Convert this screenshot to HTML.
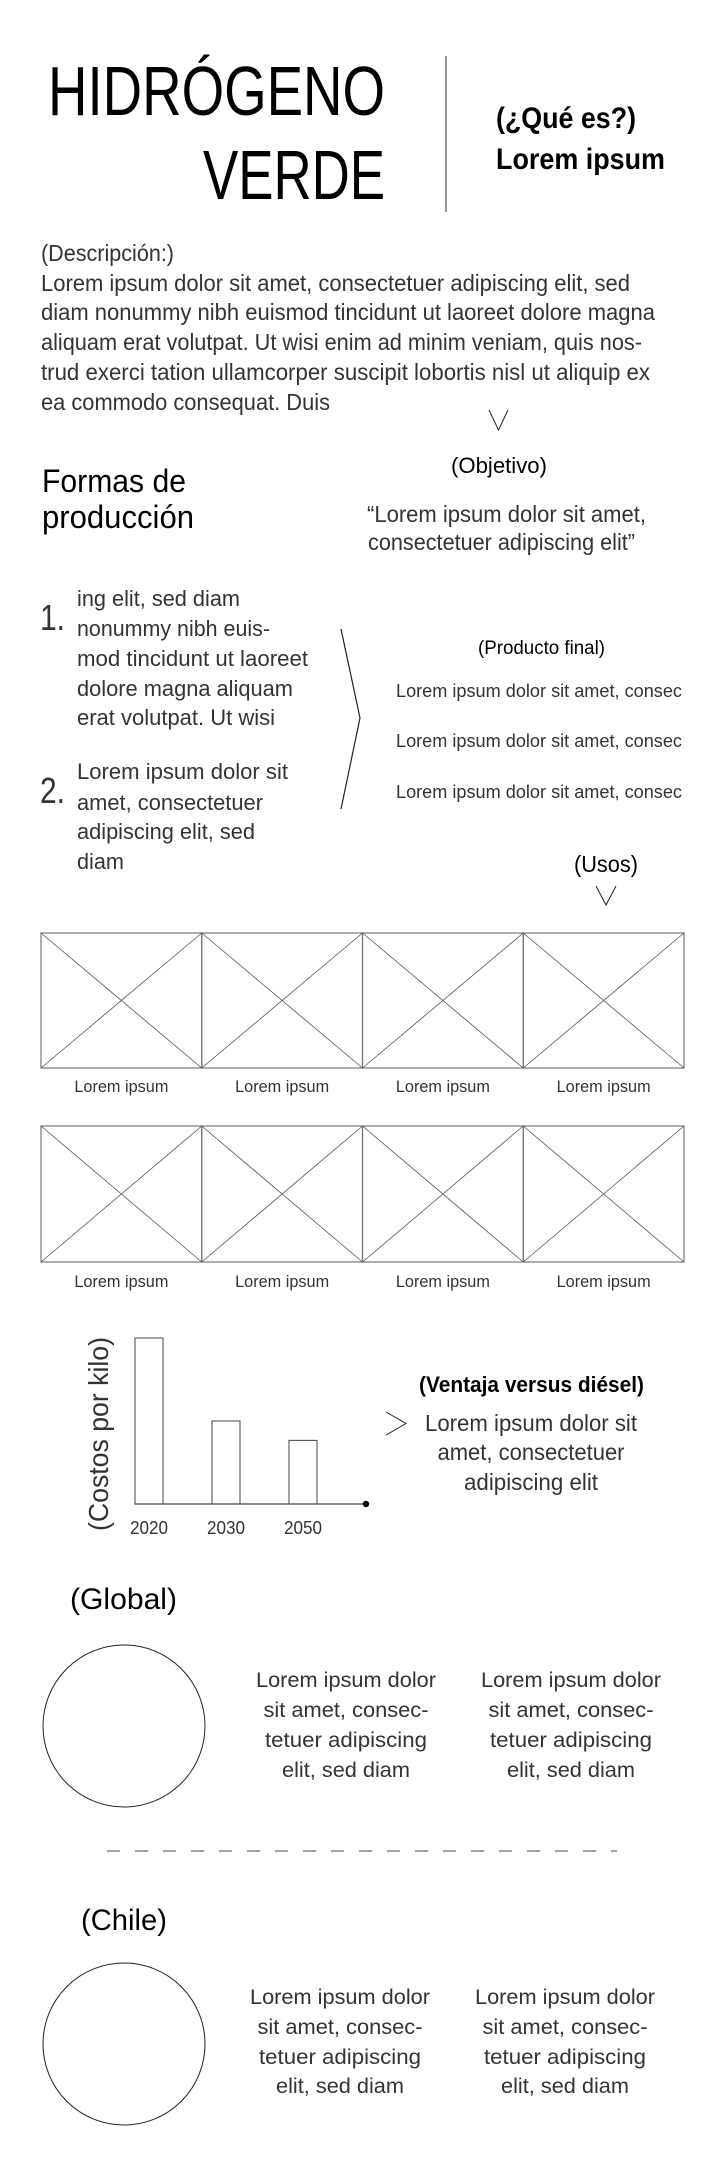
<!DOCTYPE html>
<html lang="es">
<head>
<meta charset="utf-8">
<style>
  html,body{margin:0;padding:0;background:#fff;}
  svg{display:block;}
  text{font-family:"Liberation Sans",sans-serif;fill:#333;}
  .b{font-weight:bold;fill:#000;}
</style>
</head>
<body>
<svg id="page" width="720" height="2160" viewBox="0 0 720 2160" xmlns="http://www.w3.org/2000/svg">
  <rect x="0" y="0" width="720" height="2160" fill="#fff"/>

  <g>
    <text x="48" y="115" font-size="70" textLength="337" lengthAdjust="spacingAndGlyphs" fill="#000" style="fill:#000">HIDRÓGENO</text>
    <text x="203" y="199" font-size="70" textLength="182" lengthAdjust="spacingAndGlyphs" style="fill:#000">VERDE</text>
  </g>
  <line x1="446" y1="56" x2="446" y2="212" stroke="#777" stroke-width="1.5"/>
  <g>
    <text class="b" x="496" y="128" font-size="30" textLength="140" lengthAdjust="spacingAndGlyphs">(¿Qué es?)</text>
    <text class="b" x="496" y="169" font-size="30" textLength="169" lengthAdjust="spacingAndGlyphs">Lorem ipsum</text>
  </g>

  <g font-size="23">
    <text x="41" y="261" textLength="133" lengthAdjust="spacingAndGlyphs">(Descripción:)</text>
    <text x="41" y="291" textLength="589" lengthAdjust="spacingAndGlyphs">Lorem ipsum dolor sit amet, consectetuer adipiscing elit, sed</text>
    <text x="41" y="320" textLength="614" lengthAdjust="spacingAndGlyphs">diam nonummy nibh euismod tincidunt ut laoreet dolore magna</text>
    <text x="41" y="350" textLength="601" lengthAdjust="spacingAndGlyphs">aliquam erat volutpat. Ut wisi enim ad minim veniam, quis nos-</text>
    <text x="41" y="380" textLength="609" lengthAdjust="spacingAndGlyphs">trud exerci tation ullamcorper suscipit lobortis nisl ut aliquip ex</text>
    <text x="41" y="410" textLength="289" lengthAdjust="spacingAndGlyphs">ea commodo consequat. Duis</text>
  </g>
  <polyline points="489,410 498.5,430 508,410" fill="none" stroke="#222" stroke-width="1"/>

  <g>
    <text x="451" y="473" font-size="22" textLength="96" lengthAdjust="spacingAndGlyphs" style="fill:#000">(Objetivo)</text>
    <text x="367" y="522" font-size="23" textLength="279" lengthAdjust="spacingAndGlyphs">“Lorem ipsum dolor sit amet,</text>
    <text x="368" y="550" font-size="23" textLength="267" lengthAdjust="spacingAndGlyphs">consectetuer adipiscing elit”</text>
  </g>

  <g>
    <text x="42" y="492" font-size="32" textLength="144" lengthAdjust="spacingAndGlyphs" style="fill:#000">Formas de</text>
    <text x="42" y="528" font-size="32" textLength="152" lengthAdjust="spacingAndGlyphs" style="fill:#000">producción</text>
  </g>
  <g font-size="22">
    <text x="40" y="630" font-size="36" textLength="25" lengthAdjust="spacingAndGlyphs">1.</text>
    <text x="77" y="606" textLength="163" lengthAdjust="spacingAndGlyphs">ing elit, sed diam</text>
    <text x="77" y="636" textLength="193" lengthAdjust="spacingAndGlyphs">nonummy nibh euis-</text>
    <text x="77" y="666" textLength="231" lengthAdjust="spacingAndGlyphs">mod tincidunt ut laoreet</text>
    <text x="77" y="696" textLength="216" lengthAdjust="spacingAndGlyphs">dolore magna aliquam</text>
    <text x="77" y="725" textLength="198" lengthAdjust="spacingAndGlyphs">erat volutpat. Ut wisi</text>
  </g>
  <g font-size="22">
    <text x="40" y="803" font-size="36" textLength="25" lengthAdjust="spacingAndGlyphs">2.</text>
    <text x="77" y="779" textLength="211" lengthAdjust="spacingAndGlyphs">Lorem ipsum dolor sit</text>
    <text x="77" y="810" textLength="186" lengthAdjust="spacingAndGlyphs">amet, consectetuer</text>
    <text x="77" y="839" textLength="178" lengthAdjust="spacingAndGlyphs">adipiscing elit, sed</text>
    <text x="77" y="869" textLength="47" lengthAdjust="spacingAndGlyphs">diam</text>
  </g>
  <polyline points="341,629 360,718 341,809" fill="none" stroke="#222" stroke-width="1.2"/>

  <g font-size="18">
    <text x="478" y="654" font-size="19" textLength="127" lengthAdjust="spacingAndGlyphs" style="fill:#000">(Producto final)</text>
    <text x="396" y="697" textLength="286" lengthAdjust="spacingAndGlyphs">Lorem ipsum dolor sit amet, consec</text>
    <text x="396" y="747" textLength="286" lengthAdjust="spacingAndGlyphs">Lorem ipsum dolor sit amet, consec</text>
    <text x="396" y="798" textLength="286" lengthAdjust="spacingAndGlyphs">Lorem ipsum dolor sit amet, consec</text>
  </g>

  <text x="574" y="872" font-size="23" textLength="64" lengthAdjust="spacingAndGlyphs" style="fill:#000">(Usos)</text>
  <polyline points="596,886 606,905 616,886" fill="none" stroke="#222" stroke-width="1"/>
  <g id="usos-grid"></g>

  <g id="chart"></g>
  <text x="0" y="0" font-size="28" textLength="194" lengthAdjust="spacingAndGlyphs" transform="translate(108,1531) rotate(-90)">(Costos por kilo)</text>

  <g>
    <text x="419" y="1392" font-size="22" textLength="225" lengthAdjust="spacingAndGlyphs" font-weight="bold" style="fill:#000">(Ventaja versus diésel)</text>
    <polyline points="386,1412 406,1423.5 386,1435" fill="none" stroke="#222" stroke-width="1"/>
    <text x="531" y="1431" font-size="23" text-anchor="middle" textLength="212" lengthAdjust="spacingAndGlyphs">Lorem ipsum dolor sit</text>
    <text x="531" y="1460" font-size="23" text-anchor="middle" textLength="187" lengthAdjust="spacingAndGlyphs">amet, consectetuer</text>
    <text x="531" y="1490" font-size="23" text-anchor="middle" textLength="134" lengthAdjust="spacingAndGlyphs">adipiscing elit</text>
  </g>

  <text x="70" y="1609" font-size="30" textLength="107" lengthAdjust="spacingAndGlyphs" style="fill:#000">(Global)</text>
  <circle cx="124" cy="1726" r="81" fill="none" stroke="#222" stroke-width="1"/>
  <g font-size="21" text-anchor="middle">
    <text x="346" y="1687" textLength="180" lengthAdjust="spacingAndGlyphs">Lorem ipsum dolor</text>
    <text x="346" y="1717" textLength="165" lengthAdjust="spacingAndGlyphs">sit amet, consec-</text>
    <text x="346" y="1747" textLength="162" lengthAdjust="spacingAndGlyphs">tetuer adipiscing</text>
    <text x="346" y="1777" textLength="128" lengthAdjust="spacingAndGlyphs">elit, sed diam</text>
  </g>
  <g font-size="21" text-anchor="middle">
    <text x="571" y="1687" textLength="180" lengthAdjust="spacingAndGlyphs">Lorem ipsum dolor</text>
    <text x="571" y="1717" textLength="165" lengthAdjust="spacingAndGlyphs">sit amet, consec-</text>
    <text x="571" y="1747" textLength="162" lengthAdjust="spacingAndGlyphs">tetuer adipiscing</text>
    <text x="571" y="1777" textLength="128" lengthAdjust="spacingAndGlyphs">elit, sed diam</text>
  </g>

  <line x1="107" y1="1851" x2="617" y2="1851" stroke="#444" stroke-width="1" stroke-dasharray="13 15"/>

  <text x="81" y="1930" font-size="30" textLength="86" lengthAdjust="spacingAndGlyphs" style="fill:#000">(Chile)</text>
  <circle cx="124" cy="2044" r="81" fill="none" stroke="#222" stroke-width="1"/>
  <g font-size="21" text-anchor="middle">
    <text x="340" y="2004" textLength="180" lengthAdjust="spacingAndGlyphs">Lorem ipsum dolor</text>
    <text x="340" y="2034" textLength="165" lengthAdjust="spacingAndGlyphs">sit amet, consec-</text>
    <text x="340" y="2064" textLength="162" lengthAdjust="spacingAndGlyphs">tetuer adipiscing</text>
    <text x="340" y="2093" textLength="128" lengthAdjust="spacingAndGlyphs">elit, sed diam</text>
  </g>
  <g font-size="21" text-anchor="middle">
    <text x="565" y="2004" textLength="180" lengthAdjust="spacingAndGlyphs">Lorem ipsum dolor</text>
    <text x="565" y="2034" textLength="165" lengthAdjust="spacingAndGlyphs">sit amet, consec-</text>
    <text x="565" y="2064" textLength="162" lengthAdjust="spacingAndGlyphs">tetuer adipiscing</text>
    <text x="565" y="2093" textLength="128" lengthAdjust="spacingAndGlyphs">elit, sed diam</text>
  </g>
</svg>

<script>
const years = ["2020", "2030", "2050"];
const costs = [6, 3, 2.3];
const usosLabels = ["Lorem ipsum", "Lorem ipsum", "Lorem ipsum", "Lorem ipsum"];

const NS = "http://www.w3.org/2000/svg";
function mk(tag, attrs, parent) {
  const el = document.createElementNS(NS, tag);
  for (const k in attrs) el.setAttribute(k, attrs[k]);
  parent.appendChild(el);
  return el;
}

(function () {
  const g = document.getElementById("usos-grid");
  const left = 41, right = 684;
  const rows = [{ top: 933, bottom: 1068, label: 1092 }, { top: 1126, bottom: 1262, label: 1287 }];
  const n = usosLabels.length;
  const w = (right - left) / n;
  rows.forEach(function (r) {
    for (let i = 0; i < n; i++) {
      const x0 = left + i * w, x1 = x0 + w;
      const cell = mk("g", {}, g);
      
      
      mk("rect", { x: x0, y: r.top, width: w, height: r.bottom - r.top, fill: "none", stroke: "#777", "stroke-width": 1.2 }, cell);
      mk("line", { x1: x0, y1: r.top, x2: x1, y2: r.bottom, stroke: "#555", "stroke-width": 0.8 }, cell);
      mk("line", { x1: x1, y1: r.top, x2: x0, y2: r.bottom, stroke: "#555", "stroke-width": 0.8 }, cell);
      const t = mk("text", { x: x0 + w / 2, y: r.label, "font-size": 17, "text-anchor": "middle", textLength: 94, lengthAdjust: "spacingAndGlyphs" }, g);
      t.textContent = usosLabels[i];
      
      
    }
  });
})();

(function () {
  const g = document.getElementById("chart");
  const x0 = 135, baseY = 1504, axisEnd = 366;
  const barW = 28;
  const pxPerUnit = 166 / 6;
  const yScale = v => baseY - v * pxPerUnit;
  const xScale = i => x0 + i * 77;
  years.forEach(function (yr, i) {
    const xb = xScale(i);
    const bar = mk("rect", { x: xb, y: yScale(costs[i]), width: barW, height: baseY - yScale(costs[i]), fill: "#fff", stroke: "#444", "stroke-width": 1 }, g);
    
    
    const t = mk("text", { x: xb + barW / 2, y: 1534, "font-size": 18, "text-anchor": "middle", textLength: 38, lengthAdjust: "spacingAndGlyphs" }, g);
    t.textContent = yr;
    
    
  });
  const ax = mk("line", { x1: x0, y1: baseY, x2: axisEnd, y2: baseY, stroke: "#444", "stroke-width": 1.3 }, g);
  
  
  const dot = mk("circle", { cx: axisEnd, cy: baseY, r: 3.2, fill: "#000" }, g);
  
  
})();
</script>
</body>
</html>
